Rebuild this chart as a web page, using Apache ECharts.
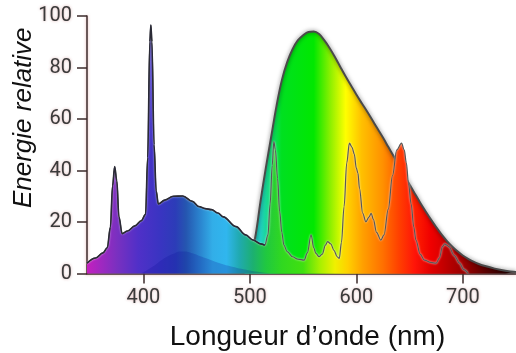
<!DOCTYPE html>
<html>
<head>
<meta charset="utf-8">
<script src="https://cdn.jsdelivr.net/npm/echarts@6/dist/echarts.min.js"></script>
<style>
html,body{margin:0;padding:0;background:#fff;}
#chart{width:516px;height:353px;}
</style>
</head>
<body>
<div id="chart"></div>
<script>
// ---- data ----
var xTicks = [400, 500, 600, 700];
var yTicks = [0, 20, 40, 60, 80, 100];

// broad smooth emission curve
var broadWl  = [495, 500, 505, 510, 515, 520, 525, 530, 535, 540, 545, 550, 555, 560, 565, 570, 575, 580, 585, 590,
                595, 600, 605, 610, 615, 620, 625, 630, 635, 640, 645, 650, 655, 660, 665, 670, 675, 680, 685, 690,
                695, 700, 705, 710, 715, 720, 730, 740, 750];
var broadVal = [1,   5,   14,  28,  41,  53,  65,  75,  82,  87,  90.5,92.5,93.8,94,  93,  90.5,87.5,84,  80.2,76.5,
                73,  69.5,66.2,63,  59.6,56.2,52.8,49.2,45.6,42,  38.3,34.6,31,  27.5,24.2,21,  18,  15.2,12.7,10.5,
                8.6, 7,   5.7, 4.6, 3.7, 3,   1.9, 1.1, 0.6];

// lamp spectrum: blue hump with mercury lines, then fluorescent lines
var lampWl  = [347,355,362,366,369,371,373,375,377,380,385,392,398,402,404,406,407,408,410,412,414,420,428,437,446,452,458,464,470,475,487,496,503,510,514,
               517,519,521,522.5,524,526,528,530,532,535,540,545,551,554,557.5,560,562,565,568,571,573,576,579,582,584,586,588.5,591,593.5,596,598,600,601.5,603,606,609,612,614,616,619,623,626,630,634,638,642.5,645,647,649,651.5,654,656,660,664,670,675,678,681,683,685,687,692,697,701,705];
var lampVal = [4,  6,  8,  10, 18, 34, 41.5,36, 22, 15.5,16.5,18.5,20.5,23, 45, 90, 96.5,90, 50, 32, 27, 28.5,30, 30.1,28, 26, 25.2,24.8,23.5,22, 18.2,15, 13, 11.5,11,
               15, 27, 42, 51.2,48, 37, 24, 16, 11, 8.5,6.5,5.6,5.2,8,  15,  10, 7.8,6.5,7.5,11, 12.4,11.5,9,  6.5,5.9,12, 26,  43, 50.6,49, 46.5,41, 39,  33, 23.4,20.1,22, 23.4,21, 16, 13, 15, 25, 38, 48, 50.6,48, 43, 35, 27,  18, 13, 7.5,5.2,4.3,4,  6,  10.5,11.5,11,10.4,7,  4,  1.5,0];
var blueEnd = 35; // number of points in the blue/mercury part

// darker inner hump in the blue region
var innerWl  = [398, 410, 420, 430, 437, 445, 455, 465, 480, 500, 520];
var innerVal = [0,   3,   6,   8,   8.5, 8,   6.5, 5,   3,   1.2, 0];

// ---- helpers ----
function zip(a, b) { return a.map(function (v, i) { return [v, b[i]]; }); }
var X_MIN = 347, X_MAX = 750, G_LEFT = 87, G_RIGHT = 0, W = 516;
function grad(stops) {
  return {
    type: 'linear', global: true,
    x: G_LEFT, y: 0, x2: W - G_RIGHT, y2: 0,
    colorStops: stops.map(function (s) {
      return { offset: Math.max(0, Math.min(1, (s[0] - X_MIN) / (X_MAX - X_MIN))), color: s[1] };
    })
  };
}
var lampStops = [
  [347,'#c41fbe'],[360,'#a028c0'],[375,'#7a30c0'],[395,'#5030c8'],[415,'#3a34c2'],
  [430,'#2c3cb8'],[440,'#2556b0'],[452,'#2a80cc'],[465,'#32aee8'],[478,'#30b6ee'],
  [490,'#20aab0'],[503,'#1cb070'],[515,'#20c840'],[530,'#30d820'],[550,'#40e010'],
  [566,'#a8f000'],[580,'#f0f000'],[592,'#ffd000'],[606,'#ffa000'],[625,'#ff7000'],
  [640,'#ff4000'],[655,'#ff1408'],[670,'#e00000'],[690,'#b00000'],[705,'#900000']
];
var broadStops = [
  [495,'#20b8b0'],[510,'#22d0c4'],[520,'#10e070'],[530,'#00e020'],[560,'#00e800'],
  [576,'#90f000'],[590,'#ffff00'],[605,'#ffc000'],[625,'#ff9000'],[640,'#ff5a00'],
  [655,'#ff2000'],[670,'#f00000'],[690,'#c80000'],[705,'#900000'],[720,'#600000'],
  [740,'#300000'],[750,'#200000']
];

var axisColor = '#3d2b2b';
var labelStyle = {
  color: '#3a3a3a', fontFamily: 'Roboto', fontSize: 20,
  textShadowColor: 'rgba(170,80,80,0.45)', textShadowBlur: 3
};

var chart = echarts.init(document.getElementById('chart'), null, { renderer: 'canvas' });
chart.setOption({
  animation: false,
  backgroundColor: '#fff',
  grid: { left: G_LEFT, right: G_RIGHT, top: 16, bottom: 79.5, containLabel: false, outerBoundsMode: 'none' },
  xAxis: {
    type: 'value', min: X_MIN, max: X_MAX,
    name: 'Longueur d\u2019onde (nm)', nameLocation: 'middle', nameGap: 50, nameMoveOverlap: false,
    nameTextStyle: { fontFamily: 'Liberation Sans', fontSize: 28, color: '#111', padding: [0, 0, 0, 12] },
    axisLine: { show: true, lineStyle: { color: axisColor, width: 1.5, shadowColor: 'rgba(200,90,90,0.5)', shadowBlur: 3 } },
    axisTick: { show: true, inside: false, length: 10, customValues: xTicks, lineStyle: { color: axisColor, width: 1.5 } },
    axisLabel: Object.assign({ margin: 14, customValues: xTicks }, labelStyle),
    splitLine: { show: false }
  },
  yAxis: {
    type: 'value', min: 0, max: 100, interval: 20,
    name: 'Energie relative', nameLocation: 'middle', nameGap: 50, nameRotate: 90, nameMoveOverlap: false,
    nameTextStyle: { fontFamily: 'Liberation Sans', fontStyle: 'italic', fontSize: 26, color: '#111', padding: [0, 0, 0, 54] },
    axisLine: { show: true, lineStyle: { color: axisColor, width: 1.5, shadowColor: 'rgba(200,90,90,0.5)', shadowBlur: 3 } },
    axisTick: { show: true, inside: false, length: 10, lineStyle: { color: axisColor, width: 1.5 } },
    axisLabel: Object.assign({ margin: 15 }, labelStyle),
    splitLine: { show: false }
  },
  series: [
    {
      name: 'broad', type: 'line', z: 2, data: zip(broadWl, broadVal),
      smooth: 0.4, showSymbol: false, silent: true,
      lineStyle: { color: '#4a4a4a', width: 2, shadowColor: 'rgba(0,0,0,0.55)', shadowBlur: 4 },
      areaStyle: { color: grad(broadStops), opacity: 1 }
    },
    {
      name: 'lamp', type: 'line', z: 3, data: zip(lampWl, lampVal),
      smooth: 0.35, smoothMonotone: 'x', showSymbol: false, silent: true,
      lineStyle: { color: '#585858', width: 1.2, shadowColor: 'rgba(255,255,255,0.9)', shadowBlur: 2 },
      areaStyle: { color: grad(lampStops), opacity: 1 }
    },
    {
      name: 'inner', type: 'line', z: 4, data: zip(innerWl, innerVal),
      smooth: 0.5, showSymbol: false, silent: true,
      lineStyle: { width: 0, opacity: 0 },
      areaStyle: { color: 'rgba(10,10,150,0.3)' }
    },
    {
      name: 'blueEdge', type: 'line', z: 5,
      data: zip(lampWl.slice(0, blueEnd), lampVal.slice(0, blueEnd)),
      smooth: 0.35, smoothMonotone: 'x', showSymbol: false, silent: true,
      lineStyle: { color: '#2a2a36', width: 1.6 }
    }
  ]
});
</script>
</body>
</html>
